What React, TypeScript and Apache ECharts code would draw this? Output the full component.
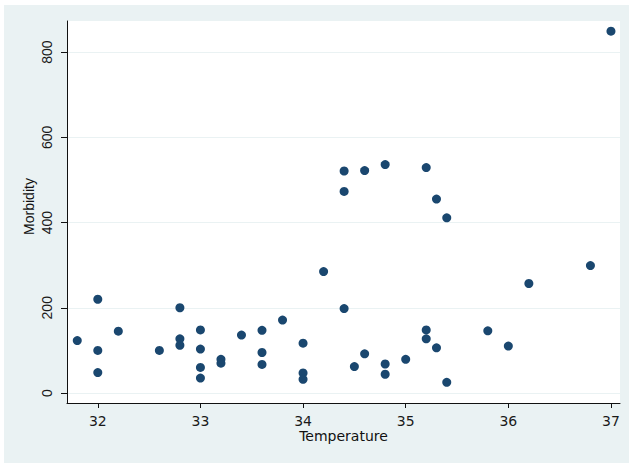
import React, { useEffect, useRef } from "react";
import * as echarts from "echarts";

const temperature: number[] = [
  31.8, 32, 32, 32, 32.2, 32.6, 32.8, 32.8, 32.8, 33, 33, 33, 33, 33.2, 33.2, 33.4,
  33.6, 33.6, 33.6, 33.8, 34, 34, 34, 34.2, 34.4, 34.4, 34.4, 34.5, 34.6, 34.6, 34.8,
  34.8, 34.8, 35, 35.2, 35.2, 35.2, 35.3, 35.3, 35.4, 35.4, 35.8, 36, 36.2, 36.8, 37,
];
const morbidity: number[] = [
  123, 220, 100, 48, 145, 100, 200, 127, 112, 148, 103, 60, 35, 79, 70, 136,
  147, 95, 67, 171, 117, 47, 32, 285, 198, 521, 473, 62, 92, 522, 68,
  44, 536, 79, 148, 127, 529, 106, 455, 25, 411, 146, 110, 257, 299, 849,
];
const xTicks: number[] = [32, 33, 34, 35, 36, 37];
const yTicks: number[] = [0, 200, 400, 600, 800];

export default function App() {
  const ref = useRef<HTMLDivElement>(null);
  useEffect(() => {
    if (!ref.current) return;
    const chart = echarts.init(ref.current, undefined, { renderer: "svg" });
    const data = temperature.map((t, i) => [t, morbidity[i]]);
    chart.setOption({
      animation: false,
      backgroundColor: "#eaf2f3",
      grid: {
        left: 63,
        top: 16,
        right: 9,
        bottom: 60,
        show: true,
        backgroundColor: "#ffffff",
        borderWidth: 0,
      },
      xAxis: {
        type: "value",
        min: 31.7,
        max: 37.088,
        name: "Temperature",
        nameLocation: "middle",
        nameGap: 26,
        nameMoveOverlap: false,
        nameTextStyle: { fontFamily: "DejaVu Sans", fontSize: 14, color: "#111" },
        axisLine: { show: true, onZero: false, lineStyle: { color: "#111", width: 1 } },
        axisTick: { show: true, length: 5, customValues: xTicks, lineStyle: { color: "#111" } },
        axisLabel: {
          customValues: xTicks,
          margin: 11,
          fontFamily: "DejaVu Sans",
          fontSize: 14,
          color: "#1a1a1a",
        },
        splitLine: { show: false },
      },
      yAxis: {
        type: "value",
        min: -23.5,
        max: 873,
        name: "Morbidity",
        nameLocation: "middle",
        nameRotate: 90,
        nameGap: 31,
        nameMoveOverlap: false,
        nameTextStyle: {
          fontFamily: "Liberation Sans",
          fontSize: 14,
          color: "#111",
          padding: [0, 0, 0, 11],
        },
        axisLine: { show: true, onZero: false, lineStyle: { color: "#111", width: 1 } },
        axisTick: { show: true, length: 6, customValues: yTicks, lineStyle: { color: "#111" } },
        axisLabel: {
          customValues: yTicks,
          rotate: 90,
          margin: 13,
          fontFamily: "Liberation Sans",
          fontSize: 14,
          color: "#1a1a1a",
        },
        splitLine: { show: true, lineStyle: { color: "#eaf2f3", width: 1 } },
      },
      series: [
        {
          type: "scatter",
          data,
          symbol: "circle",
          symbolSize: 9,
          itemStyle: { color: "#1a476f", opacity: 1 },
        },
      ],
    });
    return () => chart.dispose();
  }, []);
  return (
    <div
      ref={ref}
      style={{ position: "fixed", left: 4, top: 5, width: 625, height: 458 }}
    />
  );
}
